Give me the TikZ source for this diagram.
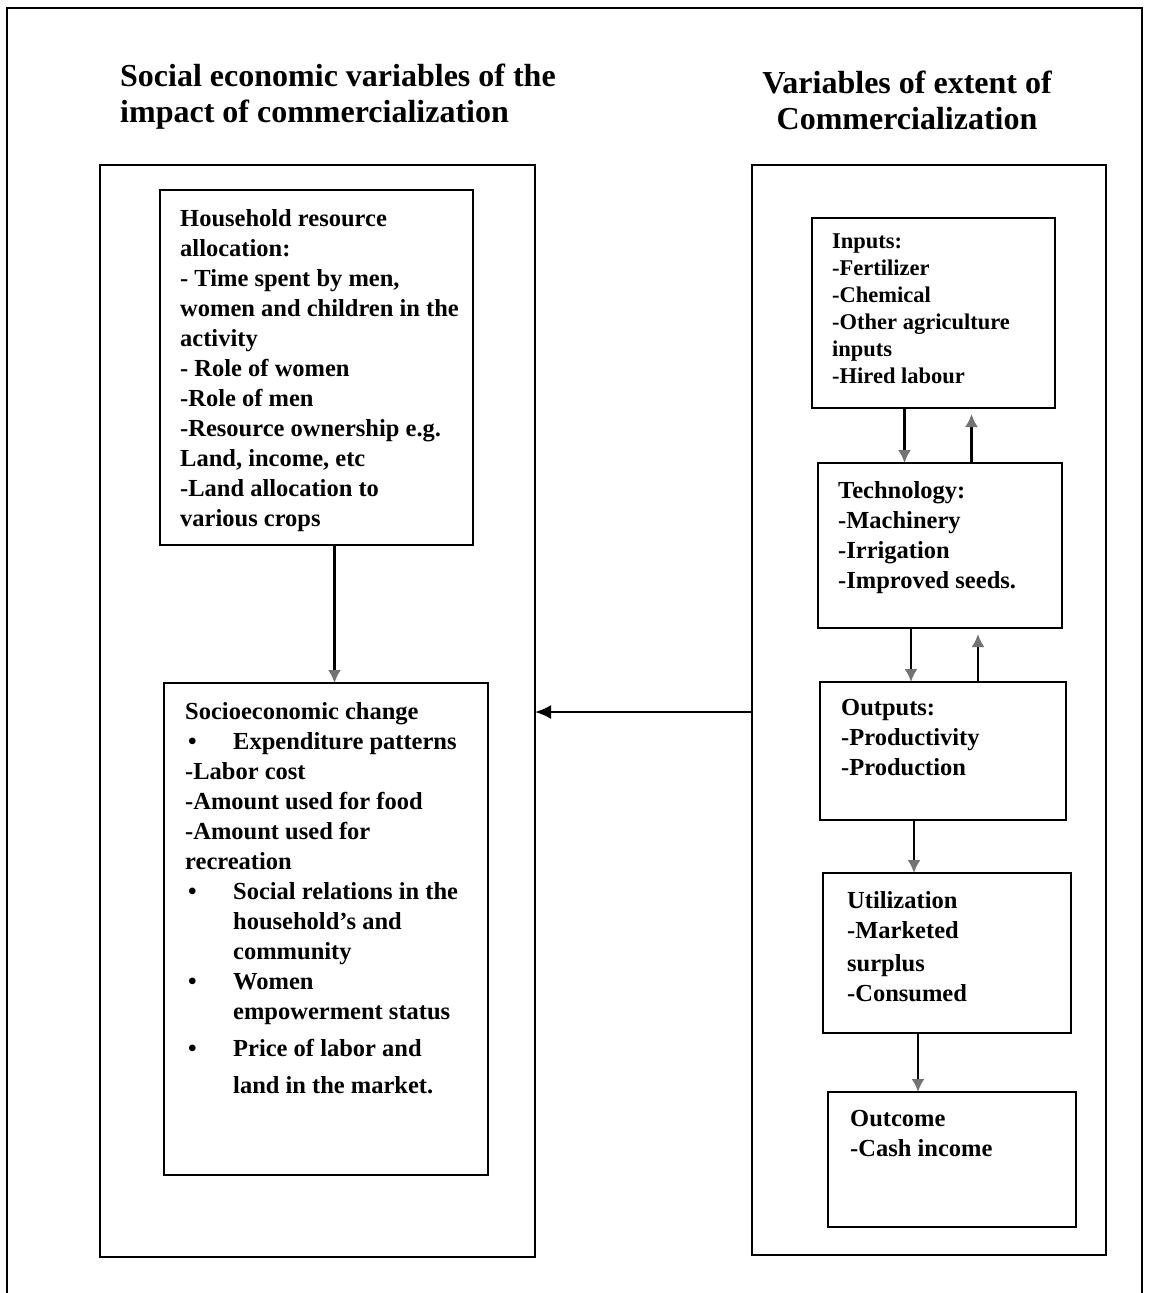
\documentclass[tikz,border=0pt]{standalone}
\usepackage{fontspec}
\setmainfont{Liberation Serif}
\usetikzlibrary {arrows.meta}

\tikzset{
  panel/.style = {draw, line width=2pt, anchor=north west, inner sep=0pt, outer sep=0pt},
  title/.style = {inner sep=0pt, font=\bfseries\fontsize{32}{36}\selectfont},
  boxtext/.style = {anchor=north west, inner sep=0pt, align=left, font=\bfseries\fontsize{24.5}{30}\selectfont},
  smalltext/.style = {boxtext, font=\bfseries\fontsize{22.5}{27}\selectfont},
  flow/.style = {draw=black, line width=2.2pt, arrows = {-Latex[length=13pt, width=13pt, color=black!55]}},
  feed/.style = {draw=black, line width=2.2pt, arrows = {-Latex[length=16pt, width=14pt]}}
}
\newcommand{\bul}{\makebox[48pt][l]{\hspace{3pt}\textbullet}}
\newcommand{\ind}{\hspace*{48pt}}

\begin{document}
\begin{tikzpicture}[x=1pt, y=-1pt]
        \useasboundingbox (0, 0) rectangle (1171, 1293);

        \draw [line width=2pt] (7, 1293)--(7, 8)--(1142, 8)--(1142, 1293);

        \foreach \name / \l / \t / \r / \b in {leftcol/100/165/535/1257, household/160/190/473/545, socio/164/683/488/1175,
            rightcol/752/165/1106/1255, inputs/812/218/1055/408, tech/818/463/1062/628, outputs/820/682/1066/820,
            util/823/873/1071/1033, outcome/828/1092/1076/1227}{
          \node [panel, minimum width={\r-\l}, minimum height={\b-\t}] (\name) at (\l, \t) {};
        }

        \node [title, anchor=north west, align=left] (lefttitle) at (120, 64) {Social economic variables of the\\impact of commercialization};
        \node [title, anchor=north, align=center] (righttitle) at (907, 71) {Variables of extent of\\Commercialization};

        \node [boxtext] (householdtxt) at (180, 209) {Household resource\\allocation:\\- Time spent by men,\\women and children in the\\activity\\- Role of women\\-Role of men\\-Resource ownership e.g.\\Land, income, etc\\-Land allocation to\\various crops};
        \node [boxtext] (sociotxt) at (185, 702) {Socioeconomic change\\\bul Expenditure patterns\\-Labor cost\\-Amount used for food\\-Amount used for\\recreation\\\bul Social relations in the\\\ind household's and\\\ind community\\\bul Women\\\ind empowerment status\\[7pt]\bul Price of labor and\\[7pt]\ind land in the market.};

        \node [smalltext] (inputstxt) at (832, 234) {Inputs:\\-Fertilizer\\-Chemical\\-Other agriculture\\inputs\\-Hired labour};
        \node [boxtext] (techtxt) at (838, 481) {Technology:\\-Machinery\\-Irrigation\\-Improved seeds.};
        \node [boxtext] (outputstxt) at (841, 699) {Outputs:\\-Productivity\\-Production};
        \node [boxtext] (utiltxt) at (847, 891) {Utilization\\-Marketed\\[3pt]surplus\\-Consumed};
        \node [boxtext] (outcometxt) at (850, 1110) {Outcome\\-Cash income};

        \path ([xshift=18pt]household.south) coordinate (hs);
        \draw [flow] (hs)--(hs |- socio.north);

        \foreach \a / \b in {inputs/tech, tech/outputs, outputs/util, util/outcome}{
          \path ([xshift=-29pt]\a.south) coordinate (down);
          \draw [flow] (down)--(down |- \b.north);
        }
        \foreach \a / \b in {inputs/tech, tech/outputs}{
          \path ([xshift=38pt]\a.south) coordinate (up);
          \draw [flow] (up |- \b.north)--([yshift=-6pt]up);
        }

        \coordinate (level) at (700, 712);
        \draw [feed] (rightcol.west |- level)--(leftcol.east |- level);
      \end{tikzpicture}
\end{document}
